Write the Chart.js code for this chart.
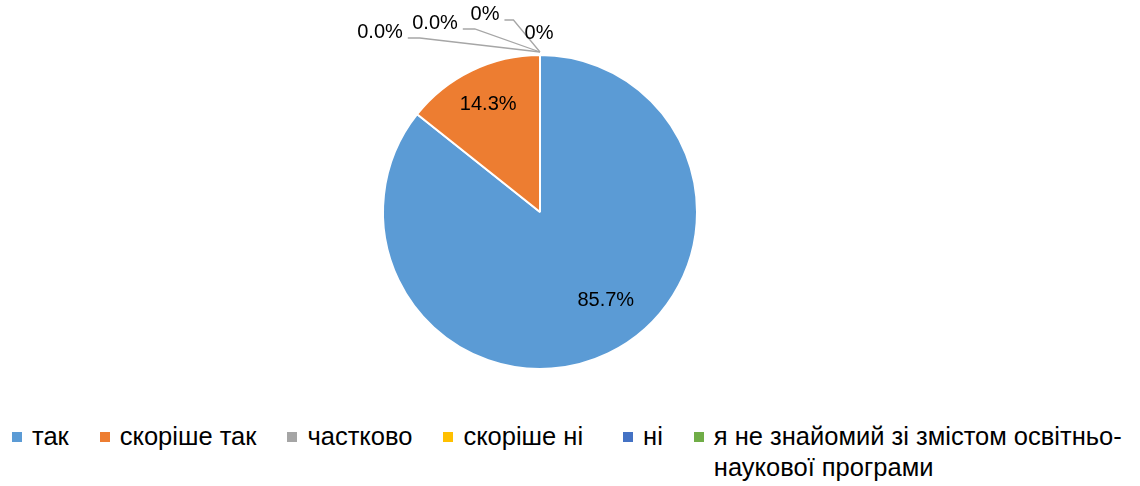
<!DOCTYPE html>
<html>
<head>
<meta charset="utf-8">
<script src="https://cdn.jsdelivr.net/npm/chart.js@4.4.1/dist/chart.umd.min.js"></script>
<style>
  html, body { margin: 0; padding: 0; background: #fff; }
  body { width: 1140px; height: 486px; position: relative; overflow: hidden; font-family: "Liberation Sans", Arial, sans-serif; }
  #wrap { position: absolute; left: 0; top: 0; width: 1140px; height: 415px; }
  #legend { position: absolute; left: 12px; top: 421px; width: 1120px; display: flex; align-items: flex-start; font-size: 25.5px; line-height: 31px; color: #000; }
  .item { display: flex; align-items: flex-start; margin-right: 31px; flex: 0 0 auto; }
  .item:nth-child(4) { margin-right: 40px; }
  .item:last-child { flex: 1 1 auto; min-width: 0; margin-right: 0; }
  .sw { width: 10px; height: 10px; margin-top: 11px; margin-right: 10px; flex: 0 0 auto; }
  .txt { white-space: normal; }
</style>
</head>
<body>
<div id="wrap"><canvas id="c"></canvas></div>
<div id="legend"></div>
<script>
const categories = ["так", "скоріше так", "частково", "скоріше ні", "ні", "я не знайомий зі змістом освітньо-наукової програми"];
const values = [85.7, 14.3, 0, 0, 0, 0];
const valueLabels = ["85.7%", "14.3%", "0.0%", "0.0%", "0%", "0%"];
const colors = ["#5B9BD5", "#ED7D31", "#A5A5A5", "#FFC000", "#4472C4", "#70AD47"];

// layout for labels (style only)
const insideLabelLayout = [{ frac: 0.70, shiftDeg: -11 }, { frac: 0.76, shiftDeg: 0 }];
// zero-slice callouts: text center offset relative to top point of pie
const calloutLayout = [
  { dx: -160, dy: -23, elbow: 12 },
  { dx: -105, dy: -32, elbow: 12 },
  { dx: -55, dy: -41, elbow: 9 },
  { dx: -1, dy: -22, elbow: 0 }
];

const labelPlugin = {
  id: 'pieLabels',
  afterDatasetsDraw(chart) {
    const ctx = chart.ctx;
    const meta = chart.getDatasetMeta(0);
    ctx.save();
    ctx.font = '20px "Liberation Sans", Arial, sans-serif';
    ctx.textAlign = 'center';
    ctx.textBaseline = 'middle';
    let zi = 0;
    meta.data.forEach((arc, i) => {
      const p = arc.getProps(['x', 'y', 'startAngle', 'endAngle', 'outerRadius'], true);
      const v = values[i];
      if (v > 0) {
        const lay = insideLabelLayout[i] || { frac: 0.7, shiftDeg: 0 };
        const mid = (p.startAngle + p.endAngle) / 2 + lay.shiftDeg * Math.PI / 180;
        const r = p.outerRadius * lay.frac;
        ctx.fillStyle = '#000';
        ctx.fillText(valueLabels[i], p.x + Math.cos(mid) * r, p.y + Math.sin(mid) * r);
      } else {
        const lay = calloutLayout[zi++];
        const ax = p.x + Math.cos(p.startAngle) * p.outerRadius;
        const ay = p.y + Math.sin(p.startAngle) * p.outerRadius - 3;
        const tx = ax + lay.dx, ty = ay + 3 + lay.dy;
        const w = ctx.measureText(valueLabels[i]).width;
        if (lay.elbow > 0) {
          const sx = tx + w / 2 + 5, sy = ty + 6;
          ctx.strokeStyle = '#A6A6A6';
          ctx.lineWidth = 1.3;
          ctx.beginPath();
          ctx.moveTo(sx, sy);
          ctx.lineTo(sx + lay.elbow, sy);
          ctx.lineTo(ax, ay);
          ctx.stroke();
        }
        ctx.fillStyle = '#000';
        ctx.fillText(valueLabels[i], tx, ty);
      }
    });
    ctx.restore();
  }
};

new Chart(document.getElementById('c'), {
  type: 'pie',
  data: {
    labels: categories,
    datasets: [{
      data: values,
      backgroundColor: colors,
      borderColor: '#ffffff',
      borderWidth: 2
    }]
  },
  options: {
    responsive: true,
    maintainAspectRatio: false,
    animation: false,
    events: [],
    layout: { padding: { top: 54, bottom: 45, left: 0, right: 60 } },
    plugins: { legend: { display: false }, tooltip: { enabled: false } }
  },
  plugins: [labelPlugin]
});

const legend = document.getElementById('legend');
categories.forEach((c, i) => {
  const it = document.createElement('div');
  it.className = 'item';
  const sw = document.createElement('span');
  sw.className = 'sw';
  sw.style.background = colors[i];
  const t = document.createElement('span');
  t.className = 'txt';
  t.textContent = c;
  it.appendChild(sw);
  it.appendChild(t);
  legend.appendChild(it);
});
</script>
</body>
</html>
